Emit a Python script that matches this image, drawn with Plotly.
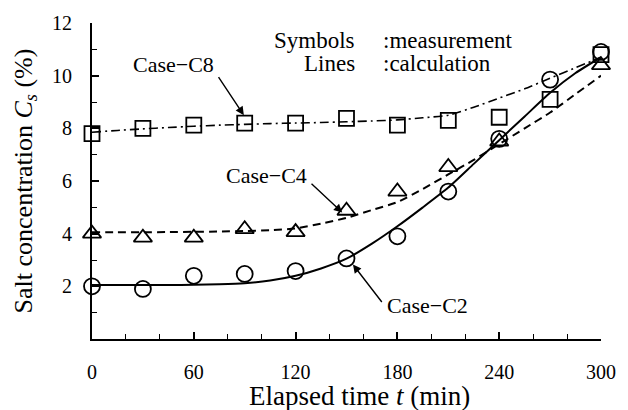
import plotly.graph_objects as go

# ---- measured data (symbols) ----
t_meas = [0, 30, 60, 90, 120, 150, 180, 210, 240, 270, 300]
c2_meas = [2.0, 1.9, 2.4, 2.47, 2.58, 3.06, 3.9, 5.6, 7.6, 9.85, 10.9]
t_meas_c4 = [0, 30, 60, 90, 120, 150, 180, 210, 240, 300]
c4_meas = [4.0, 3.85, 3.85, 4.17, 4.06, 4.87, 5.6, 6.53, 7.5, 10.4]
c8_meas = [7.8, 8.0, 8.12, 8.2, 8.2, 8.38, 8.12, 8.3, 8.42, 9.1, 10.8]

# ---- calculated curves (lines) ----
t_calc = [0, 15, 30, 45, 60, 75, 90, 105, 120, 135, 150, 165, 180, 195, 210, 225, 240, 255, 270, 285, 300]
c2_calc = [2.05, 2.05, 2.05, 2.05, 2.06, 2.08, 2.12, 2.22, 2.4, 2.68, 3.05, 3.62, 4.28, 5.0, 5.75, 6.65, 7.55, 8.45, 9.35, 10.1, 10.7]
c4_calc = [4.05, 4.05, 4.05, 4.06, 4.07, 4.08, 4.1, 4.13, 4.2, 4.38, 4.6, 4.9, 5.2, 5.7, 6.25, 6.8, 7.4, 8.0, 8.6, 9.3, 10.0]
c8_calc = [7.85, 7.92, 7.98, 8.03, 8.08, 8.12, 8.15, 8.18, 8.2, 8.22, 8.25, 8.28, 8.32, 8.4, 8.5, 8.8, 9.15, 9.5, 9.9, 10.3, 10.7]

x_ticks = [0, 60, 120, 180, 240, 300]
y_ticks = [2, 4, 6, 8, 10, 12]

FONT = "Liberation Serif"

fig = go.Figure()

fig.add_trace(go.Scatter(x=t_calc, y=c2_calc, mode="lines", line=dict(color="black", width=2, shape="spline", smoothing=0.6), showlegend=False))
fig.add_trace(go.Scatter(x=t_calc, y=c4_calc, mode="lines", line=dict(color="black", width=2, dash="8px,5px", shape="spline", smoothing=0.6), showlegend=False))
fig.add_trace(go.Scatter(x=t_calc, y=c8_calc, mode="lines", line=dict(color="black", width=1.6, dash="9px,4px,2px,4px", shape="spline", smoothing=0.6), showlegend=False))

fig.add_trace(go.Scatter(x=t_meas, y=c2_meas, mode="markers", cliponaxis=False,
                         marker=dict(symbol="circle-open", size=16, color="black", line=dict(width=1.8)), showlegend=False))
fig.add_trace(go.Scatter(x=t_meas_c4, y=c4_meas, mode="markers", cliponaxis=False,
                         marker=dict(symbol="triangle-up-open", size=16, color="black", line=dict(width=1.8)), showlegend=False))
fig.add_trace(go.Scatter(x=t_meas, y=c8_meas, mode="markers", cliponaxis=False,
                         marker=dict(symbol="square-open", size=15, color="black", line=dict(width=1.8)), showlegend=False))

annots = []
# case labels
for txt, x, y in [("Case−C8", 48, 10.42), ("Case−C4", 103, 6.2), ("Case−C2", 197.5, 1.27)]:
    annots.append(dict(x=x, y=y, xref="x", yref="y", text=txt, showarrow=False,
                       font=dict(family=FONT, size=22, color="black")))
# arrows (tail -> head)
for (tx, ty, hx, hy) in [(74, 10.0, 89.5, 8.5), (128.5, 5.95, 147.5, 4.8), (171.5, 1.35, 153.8, 2.83)]:
    annots.append(dict(x=hx, y=hy, ax=tx, ay=ty, xref="x", yref="y", axref="x", ayref="y",
                       text="", showarrow=True, arrowhead=2, arrowsize=1.2, arrowwidth=1.4, arrowcolor="black"))
# legend text
LEG = dict(family=FONT, size=23, color="black")
annots += [
    dict(x=156, y=11.33, xref="x", yref="y", text="Symbols", showarrow=False, xanchor="right", font=LEG),
    dict(x=170.5, y=11.33, xref="x", yref="y", text=":measurement", showarrow=False, xanchor="left", font=LEG),
    dict(x=156, y=10.45, xref="x", yref="y", text="Lines", showarrow=False, xanchor="right", font=LEG),
    dict(x=170.5, y=10.45, xref="x", yref="y", text=":calculation", showarrow=False, xanchor="left", font=LEG),
    # x-axis title
    dict(x=0.526, y=0, xref="paper", yref="paper", yanchor="middle", yshift=-57,
         text="Elapsed time <i>t</i> (min)", showarrow=False, font=dict(family=FONT, size=27, color="black")),
]

fig.update_layout(
    width=628, height=410,
    margin=dict(l=92, r=17, t=13, b=71),
    paper_bgcolor="white", plot_bgcolor="white",
    font=dict(family=FONT, color="black"),
    annotations=annots,
)

fig.update_xaxes(
    range=[0, 300], tickvals=x_ticks, ticks="inside", ticklen=7, tickwidth=1.6, tickcolor="black",
    showline=True, linewidth=2, linecolor="black", showgrid=False, zeroline=False,
    tickfont=dict(family=FONT, size=20, color="black"), ticklabelstandoff=14,
    minor=dict(dtick=20, ticks="inside", ticklen=5, tickwidth=1.4, tickcolor="black", showgrid=False),
)
fig.update_yaxes(
    range=[0, 12], tickvals=y_ticks, ticks="inside", ticklen=7, tickwidth=1.6, tickcolor="black",
    showline=True, linewidth=2, linecolor="black", showgrid=False, zeroline=False,
    tickfont=dict(family=FONT, size=20, color="black"), ticklabelstandoff=14,
    minor=dict(dtick=1, ticks="inside", ticklen=5, tickwidth=1.4, tickcolor="black", showgrid=False),
    title=dict(text="Salt concentration <i>C<sub>s</sub></i> (%)", font=dict(family=FONT, size=26, color="black"), standoff=12),
)

fig.write_html("out.html")
